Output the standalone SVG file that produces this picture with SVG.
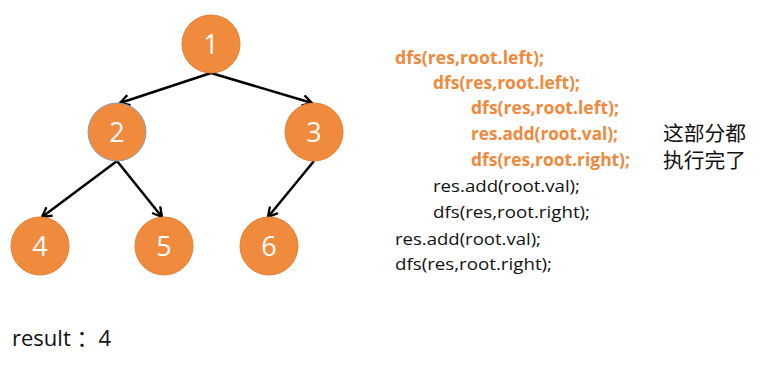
<svg xmlns="http://www.w3.org/2000/svg" width="763" height="366" viewBox="0 0 763 366">
  <style>
    .node circle { fill: #F08A3C; stroke: #E27F33; stroke-width: 1; }
    .node text { fill: #FFFFFF; font-family: "Open Sans", "Liberation Sans", sans-serif; font-size: 27px; text-anchor: middle; }
    .edge { stroke: #000000; stroke-width: 2.5; fill: none; marker-end: url(#arrow); }
    .code { font-family: "Open Sans", "Liberation Sans", sans-serif; font-size: 17px; }
    .hot { fill: #F0893C; font-weight: bold; }
    .plain { fill: #111111; }
    .note { font-family: "Noto Sans CJK SC", sans-serif; font-size: 20px; fill: #111111; }
    .result { font-family: "Open Sans", "Liberation Sans", "Noto Sans CJK SC", sans-serif; font-size: 22px; fill: #111111; }
  </style>
  <defs>
    <marker id="arrow" viewBox="0 0 12 12" refX="10" refY="6" markerWidth="5" markerHeight="5" orient="auto" markerUnits="strokeWidth">
      <path d="M1,1 L10,6 L1,11" fill="none" stroke="#000000" stroke-width="2.2" stroke-linejoin="miter"/>
    </marker>
  </defs>
  <rect width="763" height="366" fill="#FFFFFF"/>

  <!-- tree edges -->
  <g id="edges">
    <line class="edge" x1="211" y1="73" x2="120" y2="103"/>
    <line class="edge" x1="211" y1="73" x2="312" y2="103"/>
    <line class="edge" x1="117" y1="161" x2="42" y2="217"/>
    <line class="edge" x1="117" y1="161" x2="162" y2="217"/>
    <line class="edge" x1="314" y1="161" x2="268" y2="217"/>
  </g>

  <!-- tree nodes -->
  <g id="node-1" class="node"><circle cx="211" cy="44" r="29"/><text x="211" y="54">1</text></g>
  <g id="node-2" class="node"><circle cx="117" cy="132" r="29" style="stroke:#8C9AB0"/><text x="117" y="142">2</text></g>
  <g id="node-3" class="node"><circle cx="314" cy="132" r="29"/><text x="314" y="142">3</text></g>
  <g id="node-4" class="node"><circle cx="40" cy="246" r="29"/><text x="40" y="256">4</text></g>
  <g id="node-5" class="node"><circle cx="164" cy="246" r="29"/><text x="164" y="256">5</text></g>
  <g id="node-6" class="node"><circle cx="269" cy="246" r="29"/><text x="269" y="256">6</text></g>

  <!-- recursion trace -->
  <g id="trace" class="code">
    <text class="hot" x="395" y="64" textLength="149" lengthAdjust="spacingAndGlyphs">dfs(res,root.left);</text>
    <text class="hot" x="433" y="89" textLength="147" lengthAdjust="spacingAndGlyphs">dfs(res,root.left);</text>
    <text class="hot" x="471" y="114" textLength="148" lengthAdjust="spacingAndGlyphs">dfs(res,root.left);</text>
    <text class="hot" x="471" y="140" textLength="147" lengthAdjust="spacingAndGlyphs">res.add(root.val);</text>
    <text class="hot" x="471" y="166" textLength="159" lengthAdjust="spacingAndGlyphs">dfs(res,root.right);</text>
    <text class="plain" x="433" y="192" textLength="147" lengthAdjust="spacingAndGlyphs">res.add(root.val);</text>
    <text class="plain" x="433" y="218" textLength="157" lengthAdjust="spacingAndGlyphs">dfs(res,root.right);</text>
    <text class="plain" x="395" y="245" textLength="146" lengthAdjust="spacingAndGlyphs">res.add(root.val);</text>
    <text class="plain" x="395" y="270" textLength="157" lengthAdjust="spacingAndGlyphs">dfs(res,root.right);</text>
  </g>

  <g id="note">
    <text class="note" x="663" y="141" textLength="83" lengthAdjust="spacingAndGlyphs">这部分都</text>
    <text class="note" x="663" y="168" textLength="83" lengthAdjust="spacingAndGlyphs">执行完了</text>
  </g>

  <g id="result">
    <text class="result" x="12" y="346" xml:space="preserve">result ：4</text>
  </g>
</svg>
